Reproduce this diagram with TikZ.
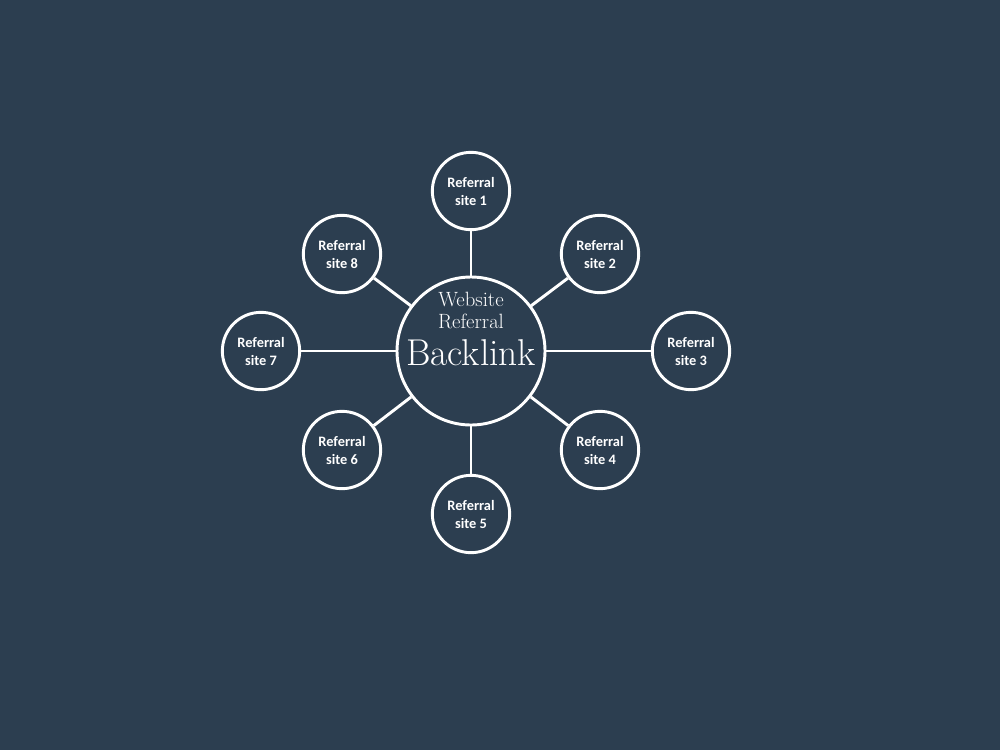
\documentclass[tikz,border=0pt]{standalone}
\usepackage{fontspec}
\setsansfont{Carlito}
\definecolor{bgblue}{HTML}{2C3E50}
\tikzset{
  site/.style={circle, draw=white, line width=2.2pt, minimum size=58pt, inner sep=0pt,
    text=white, align=center, font=\sffamily\bfseries\fontsize{10.8}{13.5}\selectfont},
  hub/.style={circle, draw=white, line width=2.2pt, minimum size=111pt, inner sep=0pt},
  link/.style={white, line width=2.2pt}
}
\begin{document}
\begin{tikzpicture}[x=0.75pt, y=-0.75pt]
	\fill[bgblue] (0,0) rectangle (1000,750);

	\node[hub] (c) at (471,351) {};
	\node[text=white, align=center, font=\rmfamily\fontsize{15.5}{16.5}\selectfont] (ct) at (471,329)
		{Website\\ Referral\\[7pt]
		 \fontsize{28}{28}\selectfont Backlink};

	\node[site] (s1) at (471,191) {Referral\\site 1};
	\node[site] (s2) at (600,254) {Referral\\site 2};
	\node[site] (s3) at (691,351) {Referral\\site 3};
	\node[site] (s4) at (600,450) {Referral\\site 4};
	\node[site] (s5) at (471,514) {Referral\\site 5};
	\node[site] (s6) at (342,450) {Referral\\site 6};
	\node[site] (s7) at (261,351) {Referral\\site 7};
	\node[site] (s8) at (342,254) {Referral\\site 8};

	\foreach \s in {s1,s2,s3,s4,s5,s6,s7,s8}
		\draw[link] (c) -- (\s);
\end{tikzpicture}
\end{document}
